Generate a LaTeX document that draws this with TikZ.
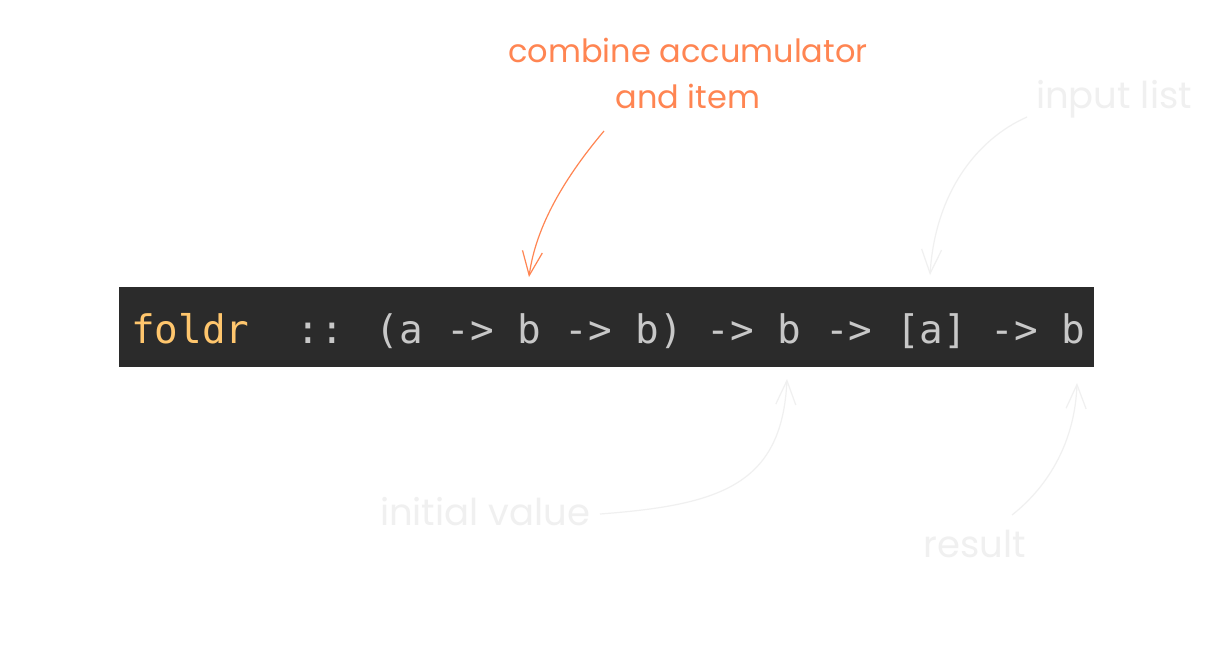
\documentclass[tikz,border=0pt]{standalone}
\usepackage{fontspec}
\usetikzlibrary{arrows.meta}
\newfontfamily\codefont{DejaVu Sans Mono}
\newfontfamily\handfont{Poppins}
\definecolor{boxbg}{HTML}{2B2B2B}
\definecolor{kw}{HTML}{FFC66D}
\definecolor{code}{HTML}{C8C8C8}
\definecolor{accent}{HTML}{FF8552}
\definecolor{faint}{HTML}{F0F0F0}
\tikzset{
  codebox/.style={fill=boxbg, draw=none},
  codetext/.style={inner sep=0pt, anchor=base west, font=\codefont\fontsize{39.3}{44}\selectfont},
  hand/.style={inner sep=0pt, anchor=base},
  hotlabel/.style={hand, text=accent, font=\handfont\fontsize{32}{46}\selectfont},
  ghostlabel/.style={hand, text=faint, font=\handfont\fontsize{37}{46}\selectfont},
  sketcharrow/.style={line width=1.2pt, -{Straight Barb[length=24pt, width=20pt, line width=1.2pt]}},
  hotarrow/.style={sketcharrow, draw=accent},
  ghostarrow/.style={sketcharrow, draw=faint}
}
\begin{document}
\begin{tikzpicture}[x=1pt, y=-1pt]
  \useasboundingbox[fill=white] (0,0) rectangle (1214,656);
  % code box
  \path[codebox] (119,287) rectangle (1094,367);
  \node[codetext] (sig) at (131,343) {\textcolor{kw}{foldr}\textcolor{code}{\ \ :: (a -> b -> b) -> b -> [a] -> b}};
  % labels
  \node[hotlabel] (comb1) at (688,62) {combine accumulator};
  \node[hotlabel] (comb2) at (688,108) {and item};
  \node[ghostlabel] (inlist) at (1114,108) {input list};
  \node[ghostlabel] (init) at (485,525) {initial value};
  \node[ghostlabel] (res) at (975,557) {result};
  % arrow endpoints
  \coordinate (combS) at (604,131);
  \coordinate (combE) at (529,277);
  \coordinate (inS) at (1027,117);
  \coordinate (inE) at (930,275);
  \coordinate (initS) at (600,514);
  \coordinate (initE) at (787,379);
  \coordinate (resS) at (1012,515);
  \coordinate (resE) at (1077,383);
  % arrows
  \draw[hotarrow] (combS) .. controls (566,176) and (536,225) .. (combE);
  \draw[ghostarrow] (inS) .. controls (975,140) and (935,195) .. (inE);
  \draw[ghostarrow] (initS) .. controls (720,505) and (782,485) .. (initE);
  \draw[ghostarrow] (resS) .. controls (1050,485) and (1075,440) .. (resE);
\end{tikzpicture}
\end{document}
